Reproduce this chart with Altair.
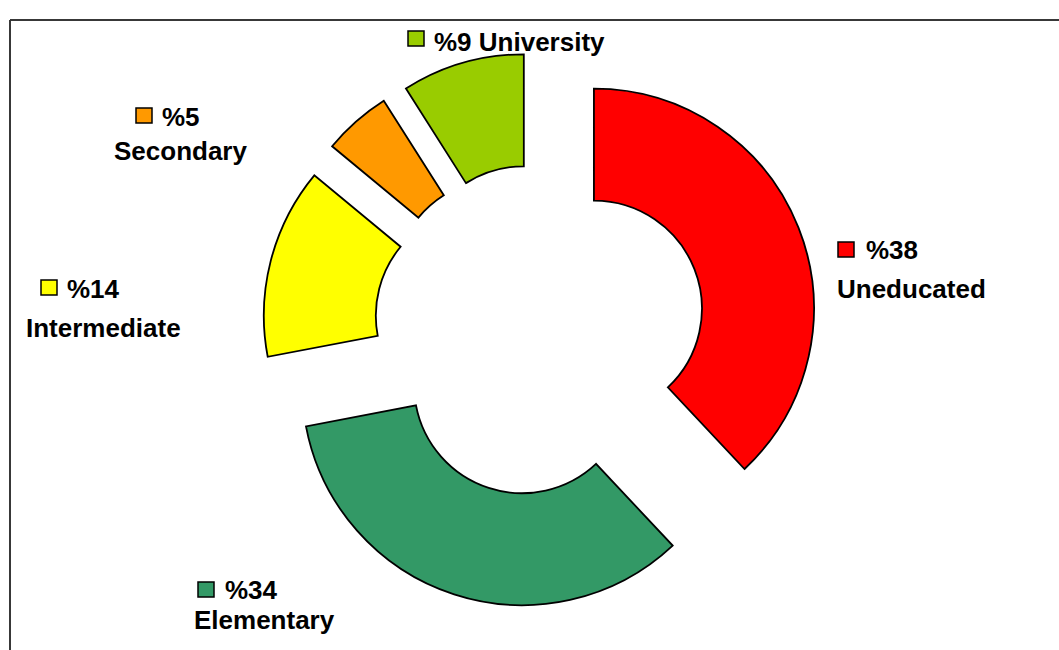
import altair as alt
import pandas as pd

# Education level of the sample (percent of respondents)
categories = ["Uneducated", "Elementary", "Intermediate", "Secondary", "University"]
percents = [38, 34, 14, 5, 9]
colors = ["#FF0000", "#339966", "#FFFF00", "#FF9900", "#99CC00"]

# Donut geometry (pixels)
CX, CY = 540, 330
EXPLODE = 58
R_OUT, R_IN = 220, 108

# Label layout (pixels): swatch top-left, first line, second line
sq_x = [838, 198, 41, 136, 408]
sq_y = [242, 582, 280, 108, 31]
pct_x = [866, 225, 67, 162, 434]
pct_y = [259, 599, 298, 126, 51]
name_x = [837, 194, 26, 114, 0]
name_y = [298, 629, 337, 160, 0]
name_inline = [False, False, False, False, True]
SQ_W, SQ_H = 16, 15

W, H = 1059, 650
FONT = "Liberation Sans"
FSIZE = 26

slices = pd.DataFrame({"order": range(len(categories)), "cat": categories, "pct": percents})

arcs = (
    alt.Chart(slices)
    .transform_window(cum="sum(pct)", sort=[alt.SortField("order")])
    .transform_calculate(
        t0="(datum.cum - datum.pct) / 100 * 2 * PI",
        t1="datum.cum / 100 * 2 * PI",
    )
    .transform_calculate(mid="(datum.t0 + datum.t1) / 2")
    .transform_calculate(
        cx=f"{CX} + {EXPLODE} * sin(datum.mid)",
        cy=f"{CY} - {EXPLODE} * cos(datum.mid)",
    )
    .mark_arc(outerRadius=R_OUT, innerRadius=R_IN, stroke="black", strokeWidth=1.8)
    .encode(
        theta=alt.Theta("t0:Q", scale=None, stack=False),
        theta2="t1:Q",
        x=alt.X("cx:Q", scale=None),
        y=alt.Y("cy:Q", scale=None),
        color=alt.Color("cat:N", scale=alt.Scale(domain=categories, range=colors), legend=None),
    )
)

line1 = [
    f"%{p} {c}" if inline else f"%{p}"
    for p, c, inline in zip(percents, categories, name_inline)
]
labels = pd.DataFrame({
    "cat": categories,
    "sx": sq_x, "sy": sq_y,
    "sx2": [v + SQ_W for v in sq_x], "sy2": [v + SQ_H for v in sq_y],
    "px": pct_x, "py": pct_y, "line1": line1,
    "nx": name_x, "ny": name_y,
    "line2": ["" if inline else c for c, inline in zip(categories, name_inline)],
})

swatches = alt.Chart(labels).mark_rect(stroke="black", strokeWidth=1.5).encode(
    x=alt.X("sx:Q", scale=None),
    x2="sx2:Q",
    y=alt.Y("sy:Q", scale=None),
    y2="sy2:Q",
    color=alt.Color("cat:N", scale=alt.Scale(domain=categories, range=colors), legend=None),
)

text1 = alt.Chart(labels).mark_text(
    font=FONT, fontSize=FSIZE, fontWeight="bold", align="left", baseline="alphabetic", color="black"
).encode(
    x=alt.X("px:Q", scale=None),
    y=alt.Y("py:Q", scale=None),
    text="line1:N",
)

text2 = alt.Chart(labels).transform_filter("datum.line2 != ''").mark_text(
    font=FONT, fontSize=FSIZE, fontWeight="bold", align="left", baseline="alphabetic", color="black"
).encode(
    x=alt.X("nx:Q", scale=None),
    y=alt.Y("ny:Q", scale=None),
    text="line2:N",
)

frame = alt.Chart(slices).mark_rect(filled=False, stroke="#333333", strokeWidth=1).encode(
    x=alt.value(10), x2=alt.value(W + 20), y=alt.value(20), y2=alt.value(H + 20)
)

chart = (
    alt.layer(frame, arcs, swatches, text1, text2)
    .properties(width=W, height=H, padding=0, autosize="none", background="white")
    .configure_view(strokeWidth=0)
)

chart.save("out.html", embed_options={"renderer": "svg", "actions": False})
